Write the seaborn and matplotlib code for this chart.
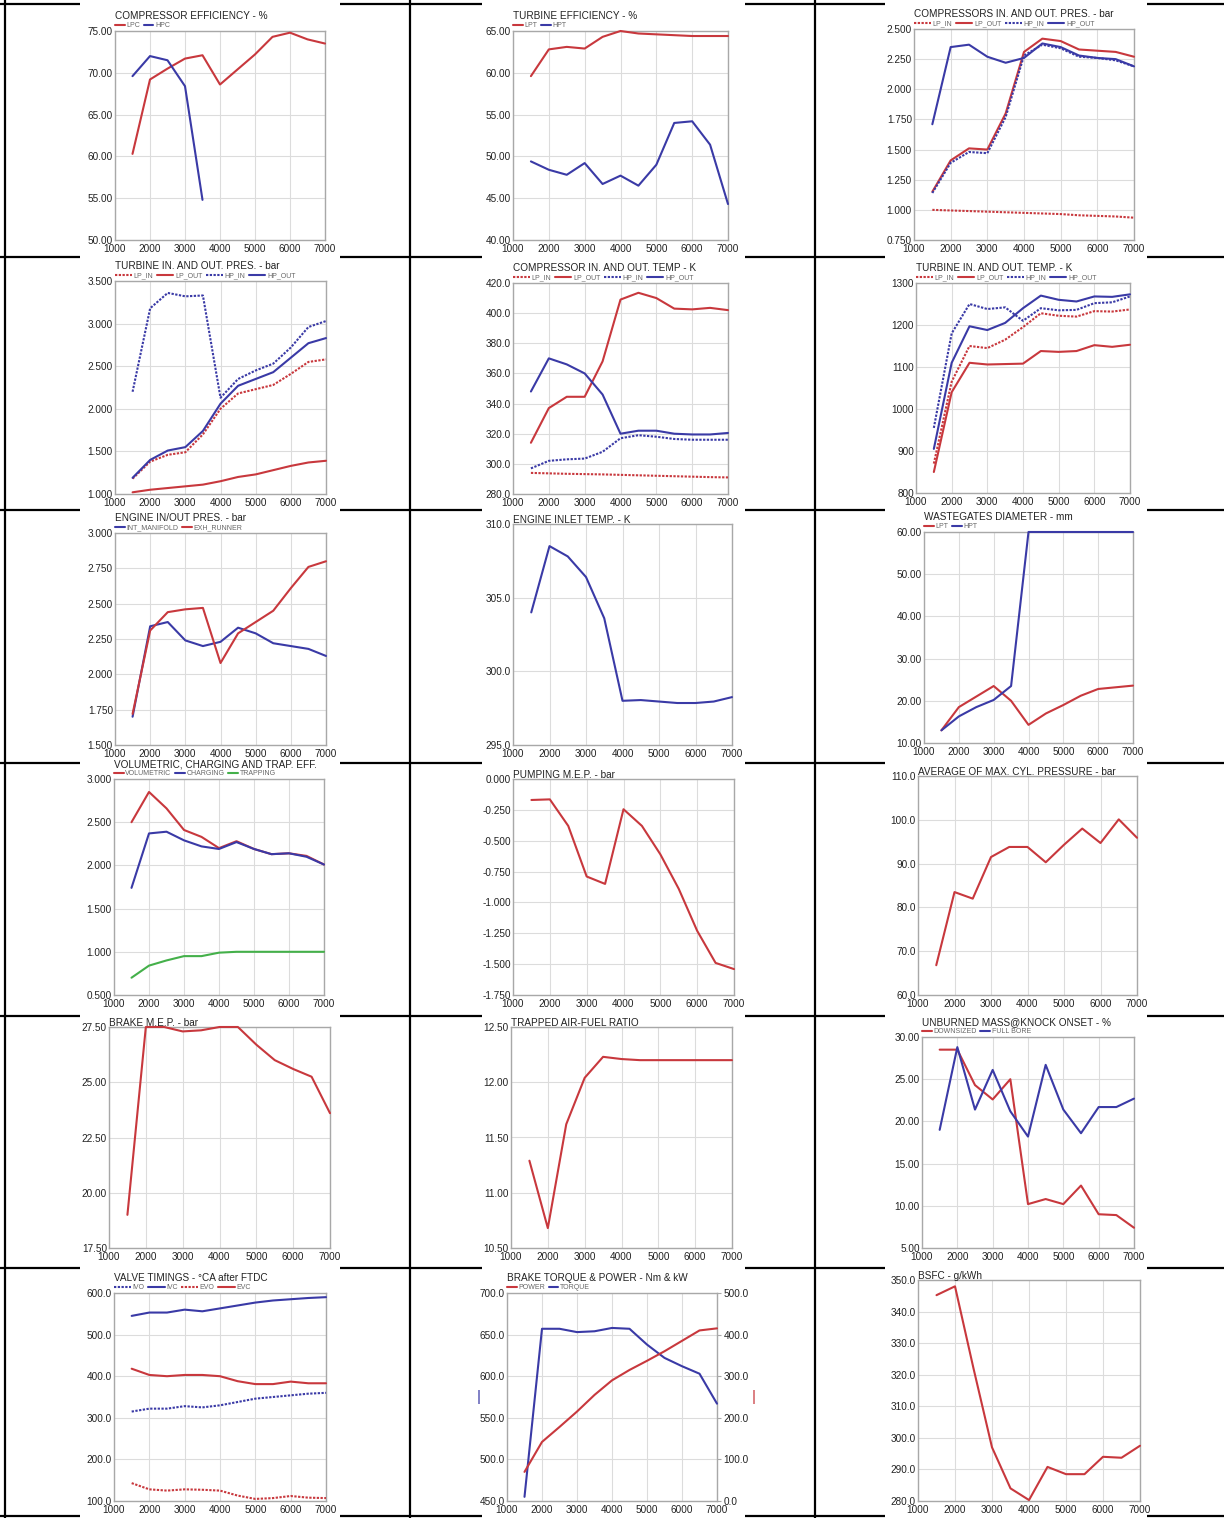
import numpy as np
import pandas as pd
import matplotlib
matplotlib.use("Agg")
import matplotlib.pyplot as plt
import seaborn as sns
from matplotlib.lines import Line2D
from matplotlib.patches import Rectangle
from matplotlib.ticker import FormatStrFormatter

# engine speed, rpm
RPM = [1500, 2000, 2500, 3000, 3500, 4000, 4500, 5000, 5500, 6000, 6500, 7000]

# compressor efficiency - %
lpc_eff = [60.3, 69.2, 70.5, 71.7, 72.1, 68.6, 70.4, 72.2, 74.3, 74.8, 74.0, 73.5]
hpc_eff = [69.6, 72.0, 71.5, 68.4, 54.8]

# turbine efficiency - %
lpt_eff = [59.6, 62.8, 63.1, 62.9, 64.3, 65.0, 64.7, 64.6, 64.5, 64.4, 64.4, 64.4]
hpt_eff = [49.4, 48.4, 47.8, 49.2, 46.7, 47.7, 46.5, 49.0, 54.0, 54.2, 51.4, 44.3]

# compressors in/out pressure - bar
cp_lp_in = [1.000, 0.995, 0.990, 0.985, 0.980, 0.975, 0.970, 0.965, 0.955, 0.950, 0.945, 0.935]
cp_lp_out = [1.15, 1.41, 1.51, 1.50, 1.80, 2.31, 2.42, 2.40, 2.33, 2.32, 2.31, 2.27]
cp_hp_in = [1.14, 1.39, 1.48, 1.47, 1.77, 2.28, 2.37, 2.34, 2.27, 2.26, 2.24, 2.19]
cp_hp_out = [1.71, 2.35, 2.37, 2.27, 2.22, 2.26, 2.38, 2.35, 2.28, 2.26, 2.25, 2.19]

# turbine in/out pressure - bar
tp_lp_in = [1.18, 1.38, 1.46, 1.49, 1.70, 2.00, 2.18, 2.23, 2.28, 2.41, 2.55, 2.58]
tp_lp_out = [1.02, 1.05, 1.07, 1.09, 1.11, 1.15, 1.20, 1.23, 1.28, 1.33, 1.37, 1.39]
tp_hp_in = [2.20, 3.18, 3.36, 3.32, 3.33, 2.13, 2.35, 2.45, 2.53, 2.72, 2.96, 3.03]
tp_hp_out = [1.19, 1.40, 1.51, 1.55, 1.74, 2.06, 2.27, 2.35, 2.43, 2.60, 2.77, 2.83]

# compressor in/out temperature - K
ct_lp_in = [294.0, 293.7, 293.4, 293.2, 293.0, 292.7, 292.4, 292.1, 291.8, 291.5, 291.2, 291.0]
ct_lp_out = [314, 337, 344.5, 344.5, 368, 409, 413.5, 410, 403, 402.5, 403.5, 402]
ct_hp_in = [297, 302, 303, 303.5, 308, 317, 319, 318, 316.5, 316, 316, 316]
ct_hp_out = [348, 370, 366, 360, 346, 320, 322, 322, 320, 319.5, 319.5, 320.5]

# turbine in/out temperature - K
tt_lp_in = [870, 1065, 1150, 1145, 1165, 1195, 1228, 1222, 1220, 1233, 1232, 1237]
tt_lp_out = [850, 1040, 1110, 1106, 1107, 1108, 1138, 1136, 1138, 1152, 1148, 1153]
tt_hp_in = [955, 1180, 1250, 1238, 1242, 1210, 1240, 1235, 1236, 1252, 1254, 1268]
tt_hp_out = [905, 1110, 1197, 1188, 1205, 1240, 1270, 1260, 1256, 1268, 1267, 1273]

# engine in/out pressure - bar
int_manifold = [1.70, 2.34, 2.37, 2.24, 2.20, 2.23, 2.33, 2.29, 2.22, 2.20, 2.18, 2.13]
exh_runner = [1.72, 2.31, 2.44, 2.46, 2.47, 2.08, 2.29, 2.37, 2.45, 2.61, 2.76, 2.80]

# engine inlet temperature - K
inlet_temp = [304.0, 308.5, 307.8, 306.4, 303.6, 298.0, 298.05, 297.95, 297.85, 297.85, 297.95, 298.25]

# wastegates diameter - mm
wg_lpt = [13.0, 18.5, 21.0, 23.5, 20.0, 14.3, 17.0, 19.0, 21.2, 22.8, 23.2, 23.6]
wg_hpt = [13.0, 16.3, 18.5, 20.2, 23.5, 60.0, 60.0, 60.0, 60.0, 60.0, 60.0, 60.0]

# volumetric, charging and trapping efficiency
volumetric = [2.50, 2.85, 2.66, 2.41, 2.33, 2.20, 2.28, 2.19, 2.13, 2.14, 2.11, 2.01]
charging = [1.74, 2.37, 2.39, 2.29, 2.22, 2.19, 2.27, 2.19, 2.13, 2.14, 2.10, 2.01]
trapping = [0.70, 0.84, 0.90, 0.95, 0.95, 0.99, 1.00, 1.00, 1.00, 1.00, 1.00, 1.00]

# pumping mep - bar
pmep = [-0.17, -0.165, -0.38, -0.79, -0.85, -0.245, -0.38, -0.61, -0.89, -1.23, -1.49, -1.54]

# average of max cylinder pressure - bar
pmax = [66.8, 83.5, 82.0, 91.5, 93.8, 93.8, 90.3, 94.3, 98.0, 94.7, 100.1, 95.9]

# brake mep - bar
bmep = [19.0, 27.5, 27.5, 27.3, 27.35, 27.5, 27.5, 26.7, 26.0, 25.6, 25.25, 23.6]

# trapped air-fuel ratio
afr = [11.29, 10.68, 11.62, 12.04, 12.23, 12.21, 12.20, 12.20, 12.20, 12.20, 12.20, 12.20]

# unburned mass at knock onset - %
knock_downsized = [28.5, 28.5, 24.3, 22.6, 25.0, 10.2, 10.8, 10.2, 12.4, 9.0, 8.9, 7.4]
knock_full_bore = [19.0, 28.8, 21.4, 26.1, 21.2, 18.2, 26.7, 21.4, 18.6, 21.7, 21.7, 22.7]

# valve timings - deg CA after FTDC
ivo = [315, 322, 322, 328, 325, 330, 338, 346, 350, 354, 358, 360]
ivc = [545, 553, 553, 560, 556, 563, 570, 577, 582, 585, 588, 590]
evo = [143, 128, 125, 128, 127, 125, 113, 105, 107, 112, 108, 107]
evc = [418, 403, 400, 403, 403, 400, 388, 381, 381, 387, 383, 383]

# brake torque (Nm) and power (kW)
torque = [455, 657, 657, 653, 654, 658, 657, 638, 622, 612, 603, 567]
power = [70, 142, 178, 215, 255, 290, 315, 337, 360, 385, 410, 415]

# brake specific fuel consumption - g/kWh
bsfc = [345.2, 348.0, 322.0, 297.0, 284.0, 280.3, 290.8, 288.5, 288.5, 294.0, 293.7, 297.5]

RED = "#c8383d"
BLUE = "#3a3aa6"
GREEN = "#44b04a"

sns.set_theme(style="white")
plt.rcParams["font.family"] = ["Liberation Sans", "DejaVu Sans"]

W, H = 1224, 1518
fig = plt.figure(figsize=(W / 100, H / 100), dpi=100)

# table frame: lines first, then the white panel pictures partly covering them
rows = [4, 257, 510, 763, 1016, 1268, 1516]
for y in rows:
    fig.add_artist(Line2D([0, 1], [1 - y / H, 1 - y / H], transform=fig.transFigure,
                          color="black", lw=1.6, zorder=-3))
for x in [5, 410, 815]:
    fig.add_artist(Line2D([x / W, x / W], [0, 1], transform=fig.transFigure,
                          color="black", lw=1.6, zorder=-3))
for c0, c1 in [(80, 340), (482, 745), (885, 1147)]:
    for r in range(6):
        y0, y1 = rows[r] - 3, rows[r + 1] + 3
        fig.add_artist(Rectangle((c0 / W, 1 - y1 / H), (c1 - c0) / W, (y1 - y0) / H,
                                 transform=fig.transFigure, facecolor="white",
                                 edgecolor="none", zorder=-2))


def add_ax(l, t, r, b):
    return fig.add_axes([l / W, 1 - b / H, (r - l) / W, (b - t) / H])


def line(ax, y, color, label, dotted=False):
    df = pd.DataFrame({"rpm": RPM[:len(y)], "val": y})
    sns.lineplot(data=df, x="rpm", y="val", ax=ax, color=color, label=label,
                 linewidth=1.5, linestyle=(0, (1.1, 0.7)) if dotted else "-",
                 legend=False, errorbar=None, clip_on=False, zorder=3)


def style(ax, title, ylim, nticks, fmt, legend=True, hl=1.4, handles=None):
    ax.set_xlim(1000, 7000)
    ax.set_xticks(np.arange(1000, 7001, 1000))
    ax.set_ylim(*ylim)
    ax.set_yticks(np.linspace(ylim[0], ylim[1], nticks))
    ax.yaxis.set_major_formatter(FormatStrFormatter(fmt))
    ax.set_xlabel("")
    ax.set_ylabel("")
    ax.grid(True, color="#dcdcdc", lw=0.8)
    for s in ax.spines.values():
        s.set_visible(True)
        s.set_color("#a8a8a8")
        s.set_linewidth(1.0)
    ax.tick_params(length=0, labelsize=7.2, colors="#222222")
    ax.tick_params(axis="y", pad=1.5)
    ax.tick_params(axis="x", pad=3)
    if legend:
        h, l = handles if handles else ax.get_legend_handles_labels()
        ax.legend(h, l, loc="lower left", bbox_to_anchor=(0, 1.008), ncol=len(h),
                  frameon=False, fontsize=5.0, handlelength=hl, handletextpad=0.25,
                  columnspacing=0.5, borderaxespad=0, borderpad=0, labelcolor="#666666")
        pad = 8.5
    else:
        pad = 0.5
    ax.set_title(title, loc="left", fontsize=7.2, pad=pad, color="#222222")


# row 1
ax = add_ax(115, 31, 325, 240)
line(ax, lpc_eff, RED, "LPC")
line(ax, hpc_eff, BLUE, "HPC")
style(ax, "COMPRESSOR EFFICIENCY - %", (50, 75), 6, "%.2f")

ax = add_ax(513, 31, 728, 240)
line(ax, lpt_eff, RED, "LPT")
line(ax, hpt_eff, BLUE, "HPT")
style(ax, "TURBINE EFFICIENCY - %", (40, 65), 6, "%.2f")

ax = add_ax(914, 29, 1134, 240)
line(ax, cp_lp_in, RED, "LP_IN", True)
line(ax, cp_lp_out, RED, "LP_OUT")
line(ax, cp_hp_in, BLUE, "HP_IN", True)
line(ax, cp_hp_out, BLUE, "HP_OUT")
style(ax, "COMPRESSORS IN. AND OUT. PRES. - bar", (0.75, 2.5), 8, "%.3f", hl=2.4)

# row 2
ax = add_ax(115, 281, 326, 494)
line(ax, tp_lp_in, RED, "LP_IN", True)
line(ax, tp_lp_out, RED, "LP_OUT")
line(ax, tp_hp_in, BLUE, "HP_IN", True)
line(ax, tp_hp_out, BLUE, "HP_OUT")
style(ax, "TURBINE IN. AND OUT. PRES. - bar", (1.0, 3.5), 6, "%.3f", hl=2.4)

ax = add_ax(513, 283, 728, 494)
line(ax, ct_lp_in, RED, "LP_IN", True)
line(ax, ct_lp_out, RED, "LP_OUT")
line(ax, ct_hp_in, BLUE, "HP_IN", True)
line(ax, ct_hp_out, BLUE, "HP_OUT")
style(ax, "COMPRESSOR IN. AND OUT. TEMP - K", (280, 420), 8, "%.1f", hl=2.4)

ax = add_ax(916, 283, 1130, 493)
line(ax, tt_lp_in, RED, "LP_IN", True)
line(ax, tt_lp_out, RED, "LP_OUT")
line(ax, tt_hp_in, BLUE, "HP_IN", True)
line(ax, tt_hp_out, BLUE, "HP_OUT")
style(ax, "TURBINE IN. AND OUT. TEMP. - K", (800, 1300), 6, "%.0f", hl=2.4)

# row 3
ax = add_ax(115, 533, 326, 745)
line(ax, int_manifold, BLUE, "INT_MANIFOLD")
line(ax, exh_runner, RED, "EXH_RUNNER")
style(ax, "ENGINE IN/OUT PRES. - bar", (1.5, 3.0), 7, "%.3f")

ax = add_ax(513, 524, 732, 745)
line(ax, inlet_temp, BLUE, None)
style(ax, "ENGINE INLET TEMP. - K", (295, 310), 4, "%.1f", legend=False)

ax = add_ax(924, 532, 1133, 743)
line(ax, wg_lpt, RED, "LPT")
line(ax, wg_hpt, BLUE, "HPT")
style(ax, "WASTEGATES DIAMETER - mm", (10, 60), 6, "%.2f")

# row 4
ax = add_ax(114, 779, 324, 995)
line(ax, volumetric, RED, "VOLUMETRIC")
line(ax, charging, BLUE, "CHARGING")
line(ax, trapping, GREEN, "TRAPPING")
style(ax, "VOLUMETRIC, CHARGING AND TRAP. EFF.", (0.5, 3.0), 6, "%.3f")

ax = add_ax(513, 779, 734, 995)
line(ax, pmep, RED, None)
style(ax, "PUMPING M.E.P. - bar", (-1.75, 0.0), 8, "%.3f", legend=False)

ax = add_ax(918, 776, 1137, 995)
line(ax, pmax, RED, None)
style(ax, "AVERAGE OF MAX. CYL. PRESSURE - bar", (60, 110), 6, "%.1f", legend=False)

# row 5
ax = add_ax(109, 1027, 330, 1248)
line(ax, bmep, RED, None)
style(ax, "BRAKE M.E.P. - bar", (17.5, 27.5), 5, "%.2f", legend=False)

ax = add_ax(511, 1027, 732, 1248)
line(ax, afr, RED, None)
style(ax, "TRAPPED AIR-FUEL RATIO", (10.5, 12.5), 5, "%.2f", legend=False)

ax = add_ax(922, 1037, 1134, 1248)
line(ax, knock_downsized, RED, "DOWNSIZED")
line(ax, knock_full_bore, BLUE, "FULL BORE")
style(ax, "UNBURNED MASS@KNOCK ONSET - %", (5, 30), 6, "%.2f")

# row 6
ax = add_ax(114, 1293, 326, 1501)
line(ax, ivo, BLUE, "IVO", True)
line(ax, ivc, BLUE, "IVC")
line(ax, evo, RED, "EVO", True)
line(ax, evc, RED, "EVC")
style(ax, "VALVE TIMINGS - \u00b0CA after FTDC", (100, 600), 6, "%.1f", hl=2.4)

ax = add_ax(507, 1293, 717, 1501)
ax2 = ax.twinx()
line(ax, torque, BLUE, "TORQUE")
line(ax2, power, RED, "POWER")
style(ax, "BRAKE TORQUE & POWER - Nm & kW", (450, 700), 6, "%.1f",
      handles=([ax2.get_lines()[0], ax.get_lines()[0]], ["POWER", "TORQUE"]))
ax2.set_ylim(0, 500)
ax2.set_yticks(np.linspace(0, 500, 6))
ax2.yaxis.set_major_formatter(FormatStrFormatter("%.1f"))
ax2.grid(False)
ax2.set_ylabel("|", color=RED, rotation=0, fontsize=11, labelpad=4, va="center")
ax2.tick_params(axis="y", right=True, length=3, width=0.8, color="#a8a8a8",
                labelcolor="#222222", pad=1.5, labelsize=7.2)
for s in ax2.spines.values():
    s.set_visible(False)
ax.set_ylabel("|", color=BLUE, rotation=0, fontsize=11, labelpad=1, va="center")

ax = add_ax(918, 1280, 1140, 1501)
line(ax, bsfc, RED, None)
style(ax, "BSFC - g/kWh", (280, 350), 8, "%.1f", legend=False)

fig.savefig("out.png", dpi=100, facecolor="white")
